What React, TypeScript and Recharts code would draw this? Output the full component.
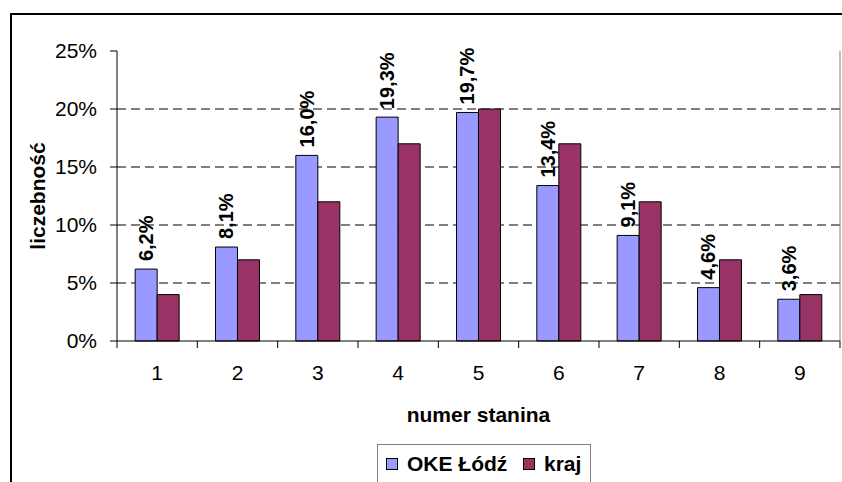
import React from 'react';
import { BarChart, Bar, XAxis, YAxis, CartesianGrid, LabelList } from 'recharts';

const categories = ['1', '2', '3', '4', '5', '6', '7', '8', '9'];
const okeLodz = [6.2, 8.1, 16.0, 19.3, 19.7, 13.4, 9.1, 4.6, 3.6];
const kraj = [4, 7, 12, 17, 20, 17, 12, 7, 4];
const yTicks = [0, 5, 10, 15, 20, 25];
const gridValues = [5, 10, 15, 20];
const seriesNames = ['OKE Łódź', 'kraj'];
const seriesColors = ['#9999FF', '#993366'];
const xTitle = 'numer stanina';
const yTitle = 'liczebność';

const data = categories.map((c, i) => ({ stanin: c, oke: okeLodz[i], kraj: kraj[i] }));

const FONT = '"Liberation Sans", Arial, sans-serif';

const fmtPct = (v: number) => `${v.toFixed(1).replace('.', ',')}%`;

const XTick = (props: any) => {
  const { x, y, payload, index } = props;
  const half = payload && typeof payload.offset === 'number' && payload.offset > 0 ? payload.offset : 40.15;
  const axisY = y - 24;
  return (
    <g>
      <line x1={x - half} x2={x - half} y1={axisY} y2={axisY + 7} stroke="#000" strokeWidth={1} />
      {index === categories.length - 1 && (
        <line x1={x + half} x2={x + half} y1={axisY} y2={axisY + 7} stroke="#000" strokeWidth={1} />
      )}
      <text x={x} y={y + 15} textAnchor="middle" fontSize={21} fontFamily={FONT} fill="#000">
        {payload.value}
      </text>
    </g>
  );
};

const BarValueLabel = (props: any) => {
  const { x, y, width, value } = props;
  const cx = Number(x) + Number(width) / 2;
  const ty = Number(y) - 8;
  return (
    <text
      x={cx}
      y={ty}
      transform={`rotate(-90, ${cx}, ${ty})`}
      textAnchor="start"
      dominantBaseline="central"
      fontSize={20}
      fontWeight="bold"
      fontFamily={FONT}
      fill="#000"
    >
      {fmtPct(Number(value))}
    </text>
  );
};

const YTitle = (props: any) => {
  const vb = props.viewBox || { x: 0, y: 51, width: 117, height: 290 };
  const cx = vb.x + 37;
  const cy = vb.y + vb.height / 2;
  return (
    <text
      x={cx}
      y={cy}
      transform={`rotate(-90, ${cx}, ${cy})`}
      textAnchor="middle"
      dominantBaseline="central"
      fontSize={21}
      fontWeight="bold"
      fontFamily={FONT}
      fill="#000"
    >
      {yTitle}
    </text>
  );
};

const XTitle = (props: any) => {
  const vb = props.viewBox || { x: 117, y: 341, width: 723, height: 141 };
  const cx = vb.x + vb.width / 2;
  const cy = vb.y + 73;
  return (
    <text
      x={cx}
      y={cy}
      textAnchor="middle"
      dominantBaseline="central"
      fontSize={21}
      fontWeight="bold"
      fontFamily={FONT}
      fill="#000"
    >
      {xTitle}
    </text>
  );
};

export default function App() {
  return (
    <div
      style={{
        position: 'absolute',
        left: 0,
        top: 0,
        width: 842,
        height: 482,
        overflow: 'hidden',
        background: '#fff',
      }}
    >
      <div
        style={{
          position: 'absolute',
          left: 10,
          top: 13,
          width: 900,
          height: 600,
          borderLeft: '2px solid #000',
          borderTop: '2px solid #000',
        }}
      />
      <div style={{ position: 'absolute', left: 0, top: 0 }}>
        <BarChart
          width={842}
          height={482}
          data={data}
          margin={{ top: 51, right: 0, bottom: 0, left: 0 }}
          barGap={0}
          barCategoryGap="22.6%"
        >
          <CartesianGrid vertical={false} stroke="#000" strokeDasharray="9 5" horizontalValues={gridValues} />
          <XAxis
            dataKey="stanin"
            height={141}
            axisLine={{ stroke: '#000', strokeWidth: 1 }}
            tickLine={false}
            tickSize={7}
            tickMargin={17}
            tick={<XTick />}
            interval={0}
            label={{ content: <XTitle /> } as any}
          />
          <XAxis
            xAxisId="t"
            dataKey="stanin"
            orientation="top"
            height={0}
            axisLine={{ stroke: '#808080', strokeWidth: 1 }}
            tick={false}
            tickLine={false}
          />
          <YAxis
            width={117}
            domain={[0, 25]}
            ticks={yTicks}
            interval={0}
            tickFormatter={(v: number) => `${v}%`}
            axisLine={{ stroke: '#000', strokeWidth: 1 }}
            tickLine={{ stroke: '#000' }}
            tickSize={7}
            tickMargin={13}
            tick={{ fontSize: 21, fill: '#000', fontFamily: FONT }}
            label={{ content: <YTitle /> } as any}
          />
          <YAxis
            yAxisId="r"
            orientation="right"
            width={2}
            domain={[0, 25]}
            axisLine={{ stroke: '#808080', strokeWidth: 1 }}
            tick={false}
            tickLine={false}
          />
          <Bar dataKey="oke" name={seriesNames[0]} fill={seriesColors[0]} stroke="#000" strokeWidth={1} isAnimationActive={false}>
            <LabelList dataKey="oke" content={<BarValueLabel />} />
          </Bar>
          <Bar dataKey="kraj" name={seriesNames[1]} fill={seriesColors[1]} stroke="#000" strokeWidth={1} isAnimationActive={false} />
        </BarChart>
      </div>
      <div
        style={{
          position: 'absolute',
          left: 377,
          top: 444,
          width: 214,
          height: 60,
          border: '1px solid #808080',
          background: '#fff',
          fontFamily: FONT,
          fontWeight: 'bold',
          fontSize: 21,
          color: '#000',
          boxSizing: 'border-box',
        }}
      >
        {seriesNames.map((name, i) => (
          <div
            key={name}
            style={{
              position: 'absolute',
              left: i === 0 ? 8 : 145,
              top: 6,
              display: 'flex',
              alignItems: 'center',
              height: 26,
              whiteSpace: 'nowrap',
            }}
          >
            <span
              style={{
                display: 'inline-block',
                width: 10,
                height: 10,
                background: seriesColors[i],
                border: '1px solid #000',
                marginRight: 9,
              }}
            />
            <span>{name}</span>
          </div>
        ))}
      </div>
    </div>
  );
}
